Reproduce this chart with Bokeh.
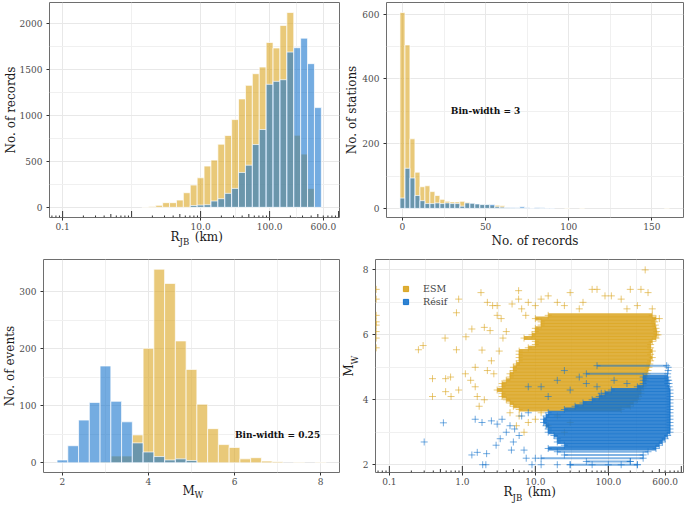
import math
from bokeh.plotting import figure
from bokeh.models import (Range1d, FixedTicker, Label, Legend, LegendItem, Title,
                          CustomJSTickFormatter)
from bokeh.layouts import column, row
from bokeh.embed import file_html
from bokeh.resources import INLINE

# ---------------- data ----------------
# (a) R_JB histogram, log10 bins of width 0.1 (bin centres in log10 km)
rjb_log_centres = [0.2, 0.3, 0.4, 0.5, 0.6, 0.7, 0.8, 0.9, 1.0, 1.1, 1.2, 1.3, 1.4,
                   1.5, 1.6, 1.7, 1.8, 1.9, 2.0, 2.1, 2.2, 2.3, 2.4, 2.5, 2.6, 2.7]
rjb_esm = [3, 10, 22, 51, 51, 79, 159, 242, 321, 448, 513, 686, 780,
           953, 1177, 1325, 1451, 1523, 1790, 1730, 1975, 2115, 783, 578, 206, 0]
rjb_resif = [0, 0, 0, 0, 0, 0, 0, 20, 25, 29, 69, 94, 152,
             206, 379, 458, 682, 845, 1336, 1368, 1386, 1686, 1733, 1837, 1560, 1083]

# (b) records per station, bin width 3
nrec_centres = [0, 3, 6, 9, 12, 15, 18, 21, 24, 27, 30, 33, 36, 39, 42, 45, 48, 51,
                54, 57, 60, 63, 66, 69, 72, 75, 78, 81, 84, 87, 90, 93, 96, 99, 102,
                105, 108, 111, 114, 117, 120, 123, 126, 129, 132, 135, 138, 141, 144,
                147, 150, 153, 156, 159]
nrec_esm = [605, 505, 215, 112, 67, 70, 52, 40, 28, 22, 20, 20, 22, 19, 16, 14, 12, 12,
            9, 10, 8, 2, 1, 1, 1, 0, 0, 0, 1, 0, 0, 0, 0, 1, 0,
            0, 1, 0, 0, 0, 0, 0, 0, 0, 0, 0, 0, 0, 0,
            0, 0, 0, 0, 1]
nrec_resif = [32, 124, 94, 40, 24, 15, 15, 17, 15, 17, 15, 15, 7, 17, 16, 14, 12, 12,
              12, 5, 4, 3, 3, 2, 5, 2, 1, 3, 2, 1, 1, 0, 0, 0, 0,
              0, 0, 0, 0, 0, 0, 0, 0, 0, 0, 0, 0, 0, 0,
              0, 0, 0, 0, 0]

# (c) events per magnitude, bin width 0.25
mw_centres = [2.0, 2.25, 2.5, 2.75, 3.0, 3.25, 3.5, 3.75, 4.0, 4.25, 4.5, 4.75, 5.0,
              5.25, 5.5, 5.75, 6.0, 6.25, 6.5, 6.75, 7.0, 7.25, 7.5, 7.75, 8.0]
mw_esm = [0, 0, 0, 0, 2, 12, 12, 49, 201, 340, 315, 214, 164,
          103, 60, 32, 27, 7, 9, 3, 2, 0, 1, 0, 1]
mw_resif = [5, 30, 75, 106, 170, 108, 72, 35, 19, 11, 5, 7, 4,
            0, 0, 0, 0, 0, 0, 0, 0, 0, 0, 0, 0]

# (d) Mw vs R_JB scatter: dense magnitude rows (Mw, R min, R max) and sparse records
esm_row_mw = [3.7, 3.8, 3.9, 4.0, 4.1, 4.2, 4.3, 4.4, 4.5, 4.6, 4.7, 4.8, 4.9, 5.0, 5.1,
              5.2, 5.3, 5.4, 5.5, 5.6, 5.7, 5.8, 5.9, 6.0, 6.1, 6.2, 6.3, 6.4, 6.5, 6.6]
esm_row_rmin = [6, 5, 4.5, 4, 3.5, 3.5, 3, 3.5, 3.5, 4, 4.5, 4.5, 5, 5, 5.5,
                6, 6, 6, 6, 8, 10, 10, 7, 9, 10, 10, 12, 12, 10, 15]
esm_row_rmax = [150, 200, 220, 250, 260, 280, 280, 300, 300, 320, 330, 340, 350, 360, 370,
                380, 400, 380, 400, 380, 380, 400, 450, 460, 460, 450, 440, 430, 450, 400]

resif_row_mw = [2.5, 2.6, 2.7, 2.8, 2.9, 3.0, 3.1, 3.2, 3.3, 3.4, 3.5, 3.6,
                3.7, 3.8, 3.9, 4.0, 4.1, 4.2, 4.3, 4.4, 4.5, 4.6, 4.7]
resif_row_rmin = [15, 25, 20, 20, 18, 15, 15, 14, 13, 13, 14, 15,
                  25, 35, 45, 60, 75, 90, 110, 250, 300, 300, 300]
resif_row_rmax = [450, 500, 550, 600, 650, 700, 700, 700, 700, 700, 700, 700,
                  700, 700, 700, 700, 700, 700, 700, 680, 650, 650, 650]
resif_thin_mw = [2.0, 2.1, 2.2, 2.3, 2.4, 4.8, 5.05]
resif_thin_rmin = [30, 50, 12, 25, 20, 50, 70]
resif_thin_rmax = [250, 200, 300, 300, 350, 650, 630]

esm_pts_r = [0.066, 0.066, 0.066, 0.066, 0.066, 0.066, 0.066, 0.066,
             0.25, 0.29, 0.39, 0.39, 0.58, 0.59, 0.59, 0.69, 0.7, 0.83, 0.83, 0.89,
             0.89, 1.1, 1.12, 1.35, 1.5, 1.5, 1.6, 1.86, 2.0, 2.4, 2.2, 2.5, 2.7, 3.0,
             3.0, 3.4, 3.2, 3.6, 4.0, 4.8, 5.9, 5.9, 7.4, 6.5, 8, 10, 12, 15, 20, 25,
             30, 45, 60, 70, 90, 110, 150, 200, 280, 320, 400, 500, 480, 350, 250, 180,
             40, 6, 8, 10, 15, 20, 25, 12, 30, 1.8, 2.2, 2.6, 1.3, 4.5, 5.5, 7, 2.0, 1.7]
esm_pts_mw = [7.4, 7.1, 6.6, 6.4, 6.3, 6.1, 5.9, 5.6,
              5.54, 5.67, 4.65, 4.1, 5.9, 4.65, 4.25, 4.7, 4.1, 6.68, 5.54, 7.1,
              4.3, 4.8, 5.94, 6.18, 5.0, 4.4, 4.1, 5.53, 6.23, 6.13, 4.9, 5.2, 4.8, 6.9,
              6.6, 6.5, 5.5, 5.9, 6.1, 6.95, 7.36, 7.1, 6.6, 6.8, 7.0, 6.9, 7.1, 7.2, 7.0, 6.9,
              7.3, 7.0, 7.4, 7.4, 7.2, 7.2, 7.1, 7.4, 7.4, 8.0, 6.8, 6.5, 6.0, 7.3, 6.9, 6.8,
              6.8, 3.5, 3.3, 3.4, 3.2, 3.5, 3.0, 3.6, 3.3, 7.3, 7.0, 6.9, 4.6, 3.6, 3.2, 3.0, 4.0, 3.8]

resif_pts_r = [0.3, 0.55, 1.35, 1.6, 1.9, 2.1, 1.5, 1.86, 2.5, 3.0, 3.5, 4.5, 5.2, 2.9,
               3.3, 4.7, 7, 2.15, 4, 6, 6.5, 8, 5, 7.5, 9, 12, 20, 30, 60, 100, 150, 200,
               250, 10, 12, 20, 30, 50, 80, 120, 15, 40, 70, 8, 25, 180, 660, 670, 680, 660]
resif_pts_mw = [2.7, 3.29, 2.3, 2.38, 2.0, 2.0, 3.4, 3.3, 3.35, 3.25, 3.4, 3.2, 3.1, 2.6,
                2.8, 2.45, 2.45, 2.34, 3.0, 2.9, 3.5, 3.6, 2.7, 2.2, 2.0, 2.0, 2.0, 2.0, 2.0, 2.0, 2.0, 2.1,
                2.0, 2.2, 4.4, 4.6, 4.3, 4.5, 4.2, 4.6, 4.1, 4.7, 4.4, 4.4, 4.9, 4.5, 4.9, 4.6, 4.5, 5.0]

# ---------------- style ----------------
ESM_COL = "#DAA520"
RES_COL = "#1874CD"
FONT = "DejaVu Serif"
TICK_COL = "#4D4D4D"
TXT_COL = "#1A1A1A"


def make_fig(w, h, xr, yr, borders, log=False):
    l, r, t, b = borders
    p = figure(width=w, height=h, x_range=Range1d(*xr), y_range=Range1d(*yr),
               x_axis_type="log" if log else "linear",
               output_backend="svg", toolbar_location=None,
               min_border_left=l, min_border_right=r, min_border_top=t,
               min_border_bottom=b)
    p.outline_line_color = "#6E6E6E"
    p.outline_line_width = 1
    p.background_fill_color = "white"
    p.border_fill_color = "white"
    return p


def style_axes(p, xt, xminor, yt, yminor, xfmt=None):
    p.xaxis.ticker = FixedTicker(ticks=xt)
    p.yaxis.ticker = FixedTicker(ticks=yt)
    p.xgrid.ticker = FixedTicker(ticks=xt, minor_ticks=xminor)
    p.ygrid.ticker = FixedTicker(ticks=yt, minor_ticks=yminor)
    for g in (p.xgrid, p.ygrid):
        g.grid_line_color = "#E8E8E8"
        g.minor_grid_line_color = "#F0F0F0"
    for ax in (p.xaxis, p.yaxis):
        ax.axis_line_color = None
        ax.major_tick_line_color = "#333333"
        ax.major_tick_in = 0
        ax.major_tick_out = 3
        ax.minor_tick_line_color = None
        ax.major_label_text_font = FONT
        ax.major_label_text_font_size = "9px"
        ax.major_label_text_color = TICK_COL
        ax.axis_label_text_font = FONT
        ax.axis_label_text_font_size = "12px"
        ax.axis_label_text_font_style = "normal"
        ax.axis_label_text_color = TXT_COL
    p.xaxis.major_label_standoff = 2
    p.yaxis.major_label_standoff = 4
    if xfmt is not None:
        p.xaxis.formatter = xfmt


def side_title(p, side, text, size, offset, valign, row_w, text_h):
    # title in a side panel; row_w = room it takes, offset = start along the frame
    p.add_layout(Title(text=text, align="left", vertical_align=valign,
                       offset=offset, standoff=int(round(row_w - 2 - text_h)),
                       text_font=FONT, text_font_size=f"{size}px",
                       text_font_style="normal", text_color=TXT_COL), side)


def sub_title_below(p, main, sub, main_start, sub_start, axis_h, centre, drop):
    # main text sits at the bottom of its row ('centre' px under the frame),
    # the subscript row follows, its text 'drop' px lower
    side_title(p, "below", main, 12, main_start, "bottom", centre - axis_h, 14)
    side_title(p, "below", sub, 8.5, sub_start, "middle", 2 * drop, 10)


def log_ticks(p, xlo, xhi, ylo, yhi, frame_h):
    xs, lens = [], []
    for d in range(-2, 4):
        for k in range(1, 10):
            v = k * 10 ** d
            if xlo <= v <= xhi:
                xs.append(v)
                lens.append(6.5 if k == 1 else (3.5 if k == 5 else 2.0))
    y0 = [ylo] * len(xs)
    y1 = [ylo + L * (yhi - ylo) / frame_h for L in lens]
    p.segment(x0=xs, y0=y0, x1=xs, y1=y1, line_color="#333333", line_width=1)


def bars(p, lefts, rights, tops, color):
    keep = [i for i, t in enumerate(tops) if t > 0]
    p.quad(left=[lefts[i] for i in keep], right=[rights[i] for i in keep],
           bottom=0, top=[tops[i] for i in keep],
           fill_color=color, fill_alpha=0.6, line_color="white", line_width=0.7)


fmt1 = CustomJSTickFormatter(code="return tick.toFixed(1);")
AXIS_H = 16  # height taken by a bottom axis (ticks + labels)
RKM = "R\u00a0\u00a0\u00a0\u00a0(km)"

# ---------------- panel (a) ----------------
xa = (10 ** -1.19, 10 ** 3.013)
ya = (-110, 2224)
p1 = make_fig(342, 253, xa, ya, (46, 3, 2, 36), log=True)
style_axes(p1, [0.1, 10, 100, 600], [1.0, 10 ** 1.5, 10 ** 2.389],
           [0, 500, 1000, 1500, 2000], [250, 750, 1250, 1750], xfmt=fmt1)
la = [10 ** (c - 0.05) for c in rjb_log_centres]
ra = [10 ** (c + 0.05) for c in rjb_log_centres]
bars(p1, la, ra, rjb_esm, ESM_COL)
bars(p1, la, ra, rjb_resif, RES_COL)
log_ticks(p1, xa[0], xa[1], ya[0], ya[1], 215)
p1.yaxis.axis_label = "No. of records"
p1.yaxis.axis_label_standoff = -1
sub_title_below(p1, RKM, "JB", 121, 130, AXIS_H, 22, 3.5)

# ---------------- panel (b) ----------------
xb = (-9.6, 169)
yb = (-28, 636)
p2 = make_fig(343, 253, xb, yb, (42, 2, 2, 31))
style_axes(p2, [0, 50, 100, 150], [25, 75, 125], [0, 200, 400, 600], [100, 300, 500])
lb = [c - 1.5 for c in nrec_centres]
rb = [c + 1.5 for c in nrec_centres]
bars(p2, lb, rb, nrec_esm, ESM_COL)
bars(p2, lb, rb, nrec_resif, RES_COL)
p2.add_layout(Label(x=50, y=300, text="Bin-width = 3", text_font=FONT,
                    text_font_size="9px", text_font_style="bold", text_align="center",
                    text_baseline="middle", text_color="#111111"))
p2.xaxis.axis_label = "No. of records"
p2.xaxis.axis_label_standoff = 1
p2.yaxis.axis_label = "No. of stations"
p2.yaxis.axis_label_standoff = 0

# ---------------- panel (c) ----------------
xc = (1.56, 8.44)
yc = (-17, 357)
p3 = make_fig(342, 254, xc, yc, (40, 3, 6, 28))
style_axes(p3, [2, 4, 6, 8], [3, 5, 7], [0, 100, 200, 300], [50, 150, 250])
lc = [c - 0.125 for c in mw_centres]
rc = [c + 0.125 for c in mw_centres]
bars(p3, lc, rc, mw_esm, ESM_COL)
bars(p3, lc, rc, mw_resif, RES_COL)
p3.add_layout(Label(x=7.0, y=49, text="Bin-width = 0.25", text_font=FONT,
                    text_font_size="9px", text_font_style="bold", text_align="center",
                    text_baseline="middle", text_color="#111111"))
p3.yaxis.axis_label = "No. of events"
p3.yaxis.axis_label_standoff = -1
sub_title_below(p3, "M", "W", 139, 151, AXIS_H, 20, 3.5)

# ---------------- panel (d) ----------------
xd = (10 ** -1.19, 10 ** 3.03)
yd = (1.76, 8.32)
p4 = make_fig(343, 254, xd, yd, (33, 2, 6, 35), log=True)
style_axes(p4, [0.1, 1, 10, 100, 600], [10 ** -0.5, 10 ** 0.5, 10 ** 1.5, 10 ** 2.389],
           [2, 4, 6, 8], [3, 5, 7], xfmt=fmt1)

p4.segment(x0=esm_row_rmin, y0=esm_row_mw, x1=esm_row_rmax, y1=esm_row_mw,
           line_color=ESM_COL, line_width=4, line_alpha=0.85)
p4.scatter(x=esm_row_rmin + esm_row_rmax, y=esm_row_mw + esm_row_mw, marker="cross",
           size=7, line_color=ESM_COL, line_alpha=0.6, line_width=1)
p4.scatter(x=esm_pts_r, y=esm_pts_mw, marker="cross", size=7,
           line_color=ESM_COL, line_alpha=0.6, line_width=1)

p4.segment(x0=resif_row_rmin, y0=resif_row_mw, x1=resif_row_rmax, y1=resif_row_mw,
           line_color=RES_COL, line_width=4, line_alpha=0.85)
p4.segment(x0=resif_thin_rmin, y0=resif_thin_mw, x1=resif_thin_rmax, y1=resif_thin_mw,
           line_color=RES_COL, line_width=2, line_alpha=0.55)
p4.scatter(x=resif_row_rmin + resif_row_rmax + resif_thin_rmin + resif_thin_rmax,
           y=resif_row_mw + resif_row_mw + resif_thin_mw + resif_thin_mw,
           marker="cross", size=7, line_color=RES_COL, line_alpha=0.6, line_width=1)
p4.scatter(x=resif_pts_r, y=resif_pts_mw, marker="cross", size=7,
           line_color=RES_COL, line_alpha=0.6, line_width=1)

log_ticks(p4, xd[0], xd[1], yd[0], yd[1], 213)

# legend keys: square markers of zero size on existing records (only the key shows)
leg_esm = p4.scatter(x=esm_pts_r[:1], y=esm_pts_mw[:1], marker="square", size=0,
                     fill_color=ESM_COL, line_color=ESM_COL, fill_alpha=0.9)
leg_res = p4.scatter(x=resif_pts_r[:1], y=resif_pts_mw[:1], marker="square", size=0,
                     fill_color=RES_COL, line_color=RES_COL, fill_alpha=0.9)
legend = Legend(items=[LegendItem(label="ESM", renderers=[leg_esm]),
                       LegendItem(label="Résif", renderers=[leg_res])],
                location="top_left", margin=0, padding=23, spacing=-2,
                glyph_width=15, glyph_height=13, label_height=13, label_standoff=10,
                label_text_font=FONT, label_text_font_size="9.5px",
                background_fill_alpha=0, border_line_alpha=0)
p4.add_layout(legend)
sub_title_below(p4, RKM, "JB", 128, 137, AXIS_H, 23, 3.5)
# M_W on the left: subscript column next to the axis, main column outside it
side_title(p4, "left", "W", 8.5, 108, "middle", 10, 10)
side_title(p4, "left", "M", 12, 96, "middle", 2, 14)

layout = column(row(p1, p2), row(p3, p4))
open("out.html", "w").write(file_html(layout, INLINE))
